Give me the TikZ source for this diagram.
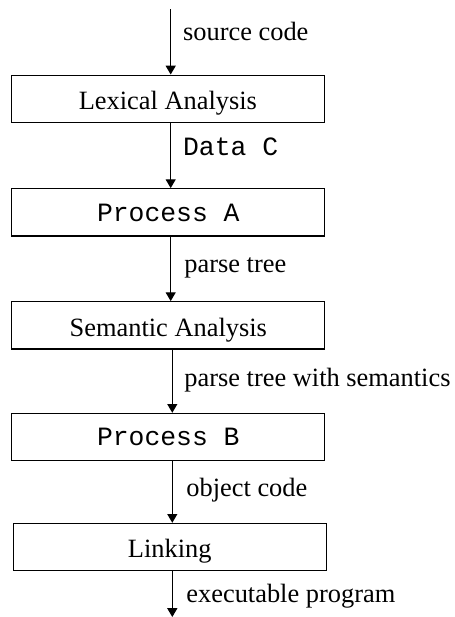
\documentclass[tikz,border=0pt]{standalone}
\usepackage{fontspec}
\setmainfont{Liberation Serif}
\setmonofont{Liberation Mono}
\usetikzlibrary{arrows.meta}
\begin{document}
\begin{tikzpicture}[x=0.5pt,y=-0.5pt,
  box/.style={draw,line width=0.6pt,minimum width=156.5pt,minimum height=23.6pt,inner sep=0pt,text height=10.8pt,text depth=0pt,font=\fontsize{13.2}{15}\selectfont},
  monobox/.style={box,text height=8.8pt,font=\fontsize{13.2}{15}\selectfont\ttfamily},
  arr/.style={line width=0.6pt,-{Triangle[length=4.4pt,width=5pt]}},
  lbl/.style={anchor=base west,inner sep=0pt,font=\fontsize{13.2}{15}\selectfont}]
\useasboundingbox (0,0) rectangle (455,617);
\node[box] (lex) at (167.9,98.7) {Lexical Analysis};
\node[monobox] (pa) at (168.3,212.3) {Process A};
\node[box] (sem) at (168.3,325.3) {Semantic Analysis};
\node[monobox] (pb) at (168.3,437) {Process B};
\node[box] (lnk) at (169.7,547) {Linking};
\coordinate (top) at (170.7,9);
\coordinate (bot) at (172.3,617);
\coordinate (ax) at (172.3,0);
\draw[arr] (top) -- (top |- lex.north);
\draw[arr] (lex.south -| top) -- (pa.north -| top);
\draw[arr] (pa.south -| top) -- (sem.north -| top);
\draw[arr] (sem.south -| ax) -- (pb.north -| ax);
\draw[arr] (pb.south -| ax) -- (lnk.north -| ax);
\draw[arr] (lnk.south -| ax) -- (bot);
\node[lbl] (l1) at (182.7,40.7) {source code};
\node[lbl] (l2) at (182.7,155) {\ttfamily Data C};
\node[lbl] (l3) at (184,272.7) {parse tree};
\node[lbl] (l4) at (184,386) {parse tree with semantics};
\node[lbl] (l5) at (186,496.7) {object code};
\node[lbl] (l6) at (186,602.7) {executable program};
\end{tikzpicture}
\end{document}
